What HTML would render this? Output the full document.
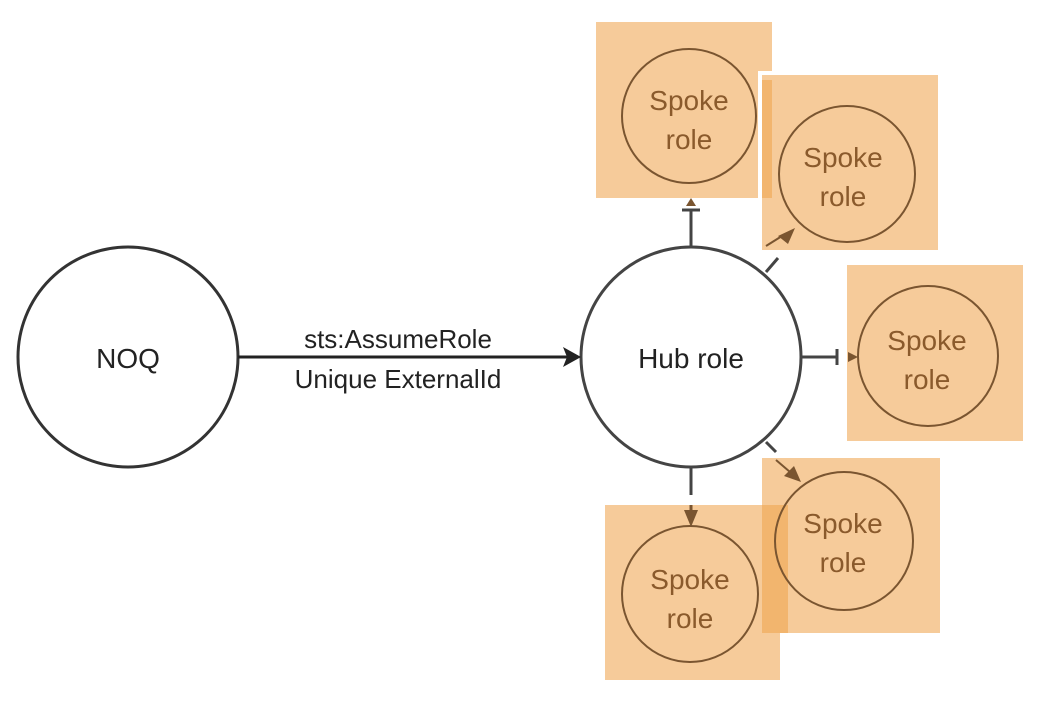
<!DOCTYPE html>
<html><head><meta charset="utf-8"><style>
html,body{margin:0;padding:0;background:#fff;width:1050px;height:704px;overflow:hidden}
text{font-family:"Liberation Sans",sans-serif}
</style></head><body>
<svg width="1050" height="704" viewBox="0 0 1050 704" xmlns="http://www.w3.org/2000/svg">
<circle cx="128" cy="357" r="110" fill="#fff" stroke="#333" stroke-width="3"/>
<text x="128" y="368" font-size="28" text-anchor="middle" fill="#222">NOQ</text>
<circle cx="691" cy="357" r="110" fill="#fff" stroke="#444" stroke-width="3"/>
<text x="691" y="368" font-size="28" text-anchor="middle" fill="#222">Hub role</text>
<line x1="238" y1="357" x2="568" y2="357" stroke="#222" stroke-width="3"/>
<polygon points="581,357 563,347 567,357 563,367" fill="#222"/>
<text x="398" y="348" font-size="26" text-anchor="middle" fill="#222">sts:AssumeRole</text>
<text x="398" y="388" font-size="26" text-anchor="middle" fill="#222">Unique ExternalId</text>
<g stroke="#444" stroke-width="3" fill="none">
<line x1="691" y1="247" x2="691" y2="210"/><line x1="682" y1="210" x2="700" y2="210"/>
<line x1="801" y1="357" x2="837" y2="357"/><line x1="837" y1="349" x2="837" y2="365"/>
<line x1="691" y1="467" x2="691" y2="495"/>
<line x1="766" y1="272" x2="778" y2="258"/>
<line x1="766" y1="442" x2="776" y2="452"/>
</g>
<g fill="#f6cb9a">
<rect x="596" y="22" width="176" height="176"/>
<rect x="847" y="265" width="176" height="176"/>
<rect x="605" y="505" width="175" height="175"/>
</g>
<rect x="758" y="71" width="184" height="183" fill="#fff"/>
<rect x="762" y="75" width="176" height="175" fill="#f6cb9a"/>
<rect x="762" y="80" width="10" height="118" fill="#f2b56e"/>
<rect x="762" y="458" width="178" height="175" fill="#f6cb9a"/>
<rect x="762" y="505" width="26" height="128" fill="#f2b56e"/>
<g fill="none" stroke="#7a5530" stroke-width="2">
<circle cx="689" cy="116" r="67"/>
<circle cx="847" cy="174" r="68"/>
<circle cx="928" cy="356" r="70"/>
<circle cx="844" cy="541" r="69"/>
<circle cx="690" cy="594" r="68"/>
</g>
<g fill="#7a5530">
<polygon points="691,198 686,206 696,206"/>
<polygon points="795,228 778,236 788,244"/>
<polygon points="858,357 848,352 848,362"/>
<polygon points="801,482 784,476 794,466"/>
<polygon points="691,527 684,510 698,510"/>
</g>
<line x1="766" y1="246" x2="782" y2="236" stroke="#7a5530" stroke-width="2"/>
<line x1="776" y1="460" x2="790" y2="472" stroke="#7a5530" stroke-width="2"/>
<line x1="691" y1="505" x2="691" y2="512" stroke="#7a5530" stroke-width="3"/>
<g font-size="28" text-anchor="middle" fill="#8a5a2c">
<text x="689" y="110">Spoke</text><text x="689" y="149">role</text>
<text x="843" y="167">Spoke</text><text x="843" y="206">role</text>
<text x="927" y="350">Spoke</text><text x="927" y="389">role</text>
<text x="843" y="533">Spoke</text><text x="843" y="572">role</text>
<text x="690" y="589">Spoke</text><text x="690" y="628">role</text>
</g>
</svg>
</body></html>
